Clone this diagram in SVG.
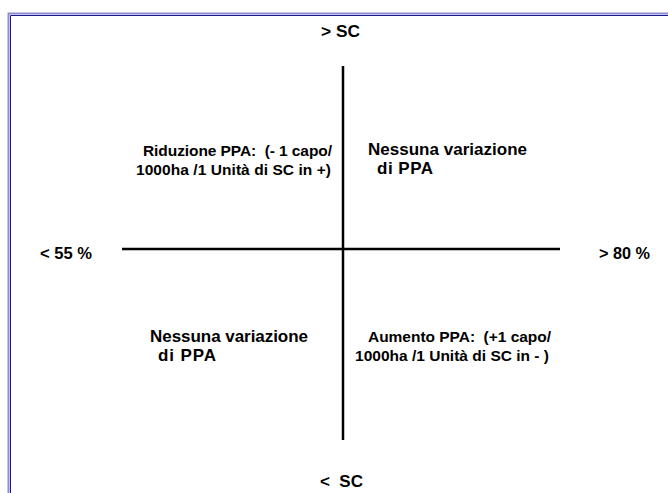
<svg xmlns="http://www.w3.org/2000/svg" width="668" height="493" viewBox="0 0 668 493">
<style>
text{font-family:"Liberation Sans",Arial,sans-serif;font-weight:bold;fill:#000;white-space:pre}
.q{font-size:15.5px}
.n{font-size:17px}
.ax{font-size:17px}
.ln{stroke:#000;stroke-width:2.5;fill:none}
</style>
<rect width="668" height="493" fill="#fff"/>
<g id="frame">
<path d="M8.5,493 V13.5 H668" stroke="#8c8cd0" stroke-width="2" fill="none"/>
<path d="M10.5,493 V15.5 H668" stroke="#1a1a8c" stroke-width="1" fill="none"/>
</g>
<g id="connectors">
<line class="ln" x1="343" y1="66" x2="343" y2="440"/>
<line class="ln" x1="122" y1="249" x2="560" y2="249"/>
</g>
<g id="top"><text class="ax" x="321" y="37" textLength="39" lengthAdjust="spacingAndGlyphs">&gt; SC</text></g>
<g id="bottom"><text class="ax" x="320" y="487" textLength="43" lengthAdjust="spacingAndGlyphs">&lt;  SC</text></g>
<g id="left"><text class="ax" x="40" y="259" textLength="52" lengthAdjust="spacingAndGlyphs">&lt; 55 %</text></g>
<g id="right"><text class="ax" x="599" y="259" textLength="51" lengthAdjust="spacingAndGlyphs">&gt; 80 %</text></g>
<g id="q1"><text class="q" x="143" y="156" textLength="189">Riduzione PPA:  (- 1 capo/</text><text class="q" x="136" y="175" textLength="195">1000ha /1 Unità di SC in +)</text></g>
<g id="q2"><text class="n" x="368" y="155" textLength="159">Nessuna variazione</text><text class="n" x="377" y="174" textLength="56">di PPA</text></g>
<g id="q3"><text class="n" x="150" y="342" textLength="158">Nessuna variazione</text><text class="n" x="158" y="361" textLength="58">di PPA</text></g>
<g id="q4"><text class="q" x="368" y="342" textLength="183">Aumento PPA:  (+1 capo/</text><text class="q" x="355" y="361" textLength="194">1000ha /1 Unità di SC in - )</text></g>
</svg>
